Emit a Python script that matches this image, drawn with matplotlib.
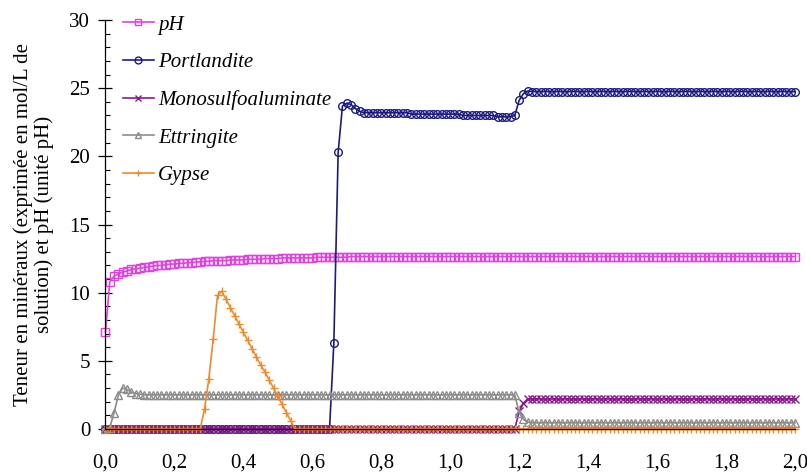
import numpy as np
import matplotlib
matplotlib.use("Agg")
import matplotlib.pyplot as plt
from matplotlib.ticker import MultipleLocator, FuncFormatter

# x grid (simulation steps)
x = np.linspace(0.0, 2.0, 161)

ph = ([7.1, 10.8, 11.2, 11.4, 11.5, 11.6, 11.7, 11.75, 11.8]
      + [11.85, 11.9, 11.95, 12.0, 12.0, 12.05, 12.1, 12.1]
      + [12.15, 12.15, 12.2, 12.2, 12.25, 12.25, 12.3, 12.3]
      + [12.35] * 4 + [12.4] * 4 + [12.45] * 4 + [12.5] * 4
      + [12.55] * 8 + [12.6] * 8
      + [12.65] * 104)

portlandite = ([0.0] * 53
               + [6.3, 20.3, 23.7, 23.9, 23.8, 23.5, 23.3, 23.2]
               + [23.2] * 10 + [23.1] * 12 + [23.0] * 8 + [22.9] * 4
               + [23.0, 24.1, 24.6, 24.8]
               + [24.75] * 62)

monosulfo = ([0.0] * 96
             + [1.3, 1.9, 2.2]
             + [2.2] * 62)

ettringite = ([0.0, 0.1, 1.2, 2.5, 3.0, 2.9, 2.7, 2.6, 2.55]
              + [2.5] * 87
              + [1.2, 0.7, 0.5]
              + [0.45] * 62)

gypse = ([0.0] * 23
         + [1.5, 3.7, 6.6, 9.8, 10.1]
         + [9.5, 8.9, 8.3, 7.7, 7.1, 6.5, 5.9, 5.3, 4.7, 4.2, 3.6, 3.0, 2.4, 1.8, 1.2, 0.6]
         + [0.0] * 117)

labels = ["pH", "Portlandite", "Monosulfoaluminate", "Ettringite", "Gypse"]
series = [ph, portlandite, monosulfo, ettringite, gypse]
colors = ["#dd44dd", "#1c1c80", "#861a8a", "#8c8c8c", "#f08a2a"]
markers = ["s", "o", "x", "^", "+"]

plt.rcParams['font.family'] = ['Liberation Serif', 'DejaVu Serif']

fig = plt.figure(figsize=(8.07, 4.72), dpi=100)
ax = fig.add_axes([0.1307, 0.0911, 0.8543, 0.8665])

for lab, ys, c, m in zip(labels, series, colors, markers):
    filled = m in ("x", "+")
    ax.plot(x, ys, color=c, lw=1.2, marker=m, markersize=5.5,
            markerfacecolor=(c if filled else "none"), markeredgecolor=c,
            markeredgewidth=1.0, label=lab, clip_on=False)

ax.set_xlim(0, 2.0)
ax.set_ylim(0, 30)
ax.xaxis.set_major_locator(MultipleLocator(0.2))
ax.yaxis.set_major_locator(MultipleLocator(5))
ax.yaxis.set_minor_locator(MultipleLocator(1))
ax.xaxis.set_major_formatter(FuncFormatter(lambda v, p: f"{v:.1f}".replace(".", ",")))
ax.yaxis.set_major_formatter(FuncFormatter(lambda v, p: f"{v:.0f}"))

for s in ("top", "right"):
    ax.spines[s].set_visible(False)
ax.spines["left"].set_linewidth(0.9)
ax.spines["bottom"].set_linewidth(0.9)

ax.tick_params(axis="y", which="major", direction="inout", length=10, width=0.9, labelsize=15, pad=6)
ax.tick_params(axis="y", which="minor", direction="in", length=3.6, width=0.8)
ax.tick_params(axis="x", which="major", direction="in", length=0, labelsize=15, pad=17.5)

ax.set_ylabel("Teneur en minéraux (exprimée en mol/L de\nsolution) et pH (unité pH)",
              fontsize=15, labelpad=11, linespacing=1.1)

leg = ax.legend(loc="upper left", bbox_to_anchor=(0.025, 1.012), frameon=False,
                prop={"style": "italic", "size": 15}, handlelength=1.5,
                labelspacing=0.86, handletextpad=0.2, borderaxespad=0.0,
                borderpad=0.0, markerscale=0.9)

fig.savefig("out.png", dpi=100)
